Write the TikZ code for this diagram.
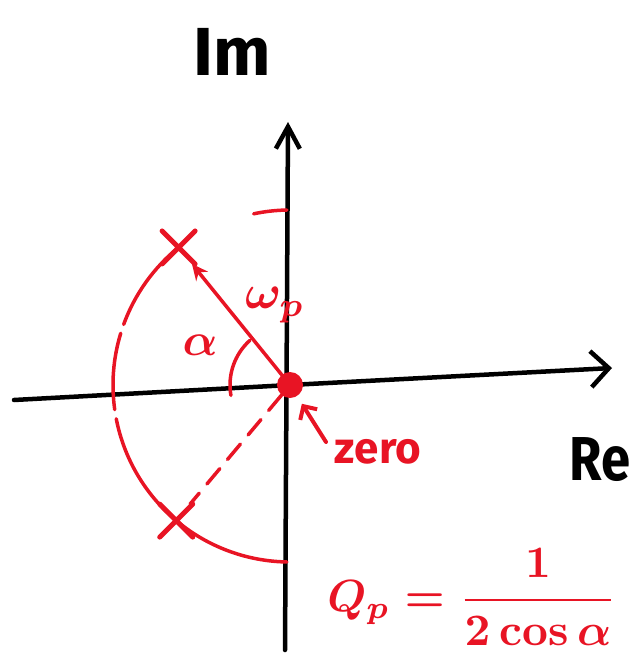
\documentclass[tikz,border=0pt]{standalone}
\usepackage[no-math]{fontspec}
\setmainfont{Fira Sans}
\usetikzlibrary{arrows.meta,calc,shapes.misc}
\definecolor{pen}{RGB}{232,20,36}
\begin{document}
\begin{tikzpicture}[x=1pt,y=1pt,
  axis/.style={line width=4.5pt, line cap=round, black},
  redline/.style={line width=3.5pt, line cap=round, pen},
  pole/.style={cross out, draw=pen, line width=5pt, line cap=round, minimum size=28pt, inner sep=0pt},
  lab/.style={text=pen, inner sep=0pt, font=\boldmath},
  blab/.style={text=black, inner sep=0pt}]
\useasboundingbox (0,0) rectangle (634,-666);
% axes
\coordinate (xl) at (14,-400);
\coordinate (xr) at (612,-368);
\coordinate (yb) at (285,-650);
\coordinate (yt) at (288,-122);
\draw[axis, -{Straight Barb[length=18pt,width=36pt]}] (xl) -- (290,-385) -- (xr);
\draw[axis, -{Straight Barb[length=22pt,width=24pt]}] (yb) -- (yt);
\node[blab, font=\bfseries\fontsize{68}{68}\selectfont] (im) at (232,-52) {Im};
\node[blab, font=\bfseries\fontsize{62}{62}\selectfont, xscale=0.85] (re) at (600,-460) {Re};
% zero and poles
\node[circle, fill=pen, minimum size=26pt, inner sep=0pt] (zero) at (290,-385) {};
\node[pole] (p1) at ($(zero)+(129:177)$) {};
\node[pole] (p2) at ($(zero)+(230:177)$) {};
\draw[redline, -{Stealth[length=16pt,width=15pt]}] (zero) -- (p1);
\draw[redline, dash pattern=on 20pt off 12pt] (zero) -- (p2);
% circle arcs
\draw[redline] (zero.center) ++(91:175) arc[start angle=91, end angle=102, radius=175];
\draw[redline] (zero.center) ++(129:177) arc[start angle=129, end angle=160, radius=177];
\draw[redline] (zero.center) ++(163:177) arc[start angle=163, end angle=188, radius=177];
\draw[redline] (zero.center) ++(191:177) arc[start angle=191, end angle=230, radius=177];
\draw[redline] (zero.center) ++(230:177) arc[start angle=230, end angle=269, radius=177];
% alpha arc
\draw[redline] (zero.center) ++(132:60) arc[start angle=132, end angle=190, radius=60];
% labels
\node[lab, scale=4.6] (alpha) at (200,-345) {$\alpha$};
\node[lab, scale=4.8] (wp) at (275,-305) {$\omega_p$};
\coordinate (za) at (326,-442);
\draw[redline, line width=4pt, -{Straight Barb[length=10pt,width=20pt]}, shorten >=9pt] (za) -- (zero);
\node[lab, font=\bfseries\fontsize{44}{44}\selectfont] (zl) at (378,-452) {zero};
\node[lab, scale=4.5] (formula) at (472,-597) {$Q_p = \displaystyle\frac{1}{2\cos\alpha}$};
\end{tikzpicture}
\end{document}
